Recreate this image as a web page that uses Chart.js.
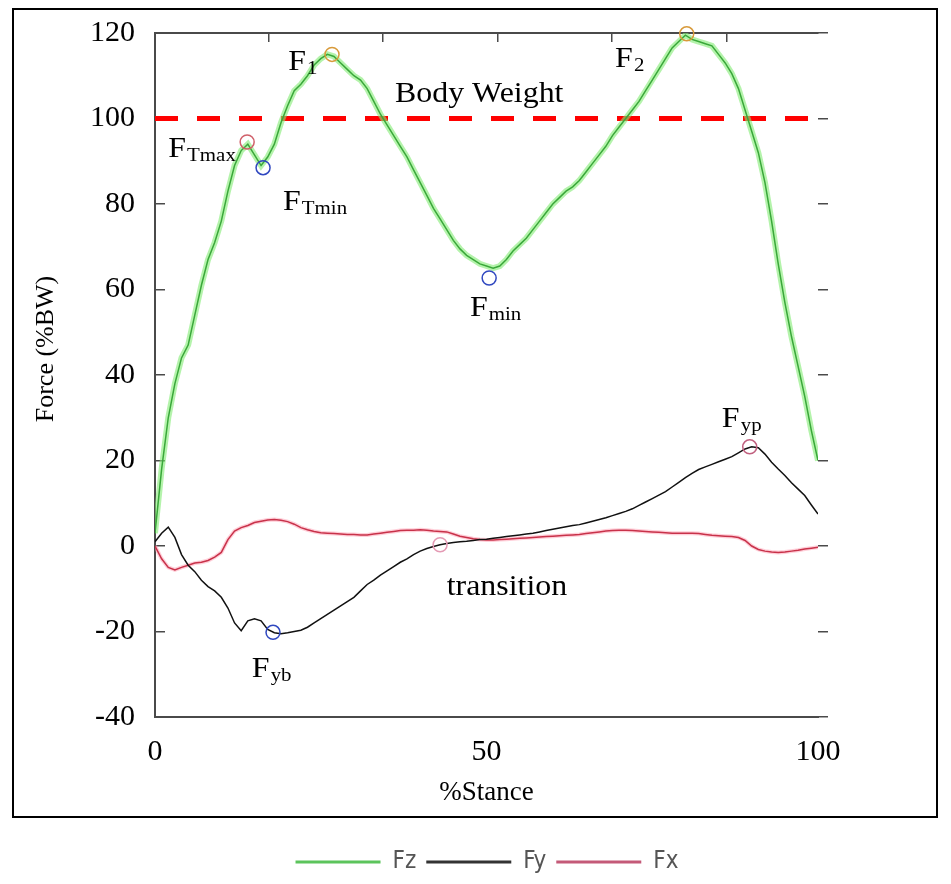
<!DOCTYPE html>
<html>
<head>
<meta charset="utf-8">
<title>Ground reaction force over stance</title>
<script src="https://cdn.jsdelivr.net/npm/chart.js@4.4.1/dist/chart.umd.min.js"></script>
<style>
    html, body { margin: 0; padding: 0; background: #fff; }
    #wrap { position: relative; width: 951px; height: 884px; }
    #frame {
        position: absolute; left: 12px; top: 8px; width: 926px; height: 810px;
        border: 2px solid #000; box-sizing: border-box; pointer-events: none;
    }
</style>
</head>
<body>
<div id="wrap">
    <canvas id="forceChart" width="951" height="884"></canvas>
    <div id="frame"></div>
</div>
<script>
// % of stance phase
const stance = [0, 1, 2, 3, 4, 5, 6, 7, 8, 9, 10, 11, 12, 13, 14, 15, 16, 17, 18, 19, 20,
    21, 22, 23, 24, 25, 26, 27, 28, 29, 30, 31, 32, 33, 34, 35, 36, 37, 38, 39, 40,
    41, 42, 43, 44, 45, 46, 47, 48, 49, 50, 51, 52, 53, 54, 55, 56, 57, 58, 59, 60,
    61, 62, 63, 64, 65, 66, 67, 68, 69, 70, 71, 72, 73, 74, 75, 76, 77, 78, 79, 80,
    81, 82, 83, 84, 85, 86, 87, 88, 89, 90, 91, 92, 93, 94, 95, 96, 97, 98, 99, 100];

// force in %BW
const fz = [3, 18, 30, 38, 44, 47, 54, 61, 67, 71,
    76, 83, 89, 92.5, 94, 91.5, 89, 91, 94, 99,
    103, 106.5, 108, 110, 112.5, 114, 115, 114.5, 113, 111.5,
    110, 109, 107, 104, 101, 98.5, 96, 93.5, 91, 88,
    85, 82, 79, 76.5, 74, 71.5, 69.5, 68, 67, 66,
    65.5, 65, 65.5, 67, 69, 70.5, 72, 74, 76, 78,
    80, 81.5, 83, 84, 85.5, 87.5, 89.5, 91.5, 93.5, 96,
    98, 100, 102, 104, 106.5, 109, 111.5, 114, 116.5, 118,
    119.5, 118.5, 118, 117.5, 117, 115, 113, 110.5, 107, 102,
    97, 92, 85, 76, 66, 57, 49, 42, 35, 27, 20];

const fy = [1, 3, 4.4, 2, -2, -4.5, -6, -8, -9.5, -10.5,
    -12, -14.5, -18, -19.8, -17.5, -17, -17.5, -19.5, -20.3, -20.5,
    -20.3, -20, -19.7, -19, -18, -17, -16, -15, -14, -13,
    -12, -10.5, -9, -8, -6.8, -5.8, -4.8, -3.8, -3, -2,
    -1.2, -0.6, -0.1, 0.3, 0.6, 0.8, 1, 1.1, 1.3, 1.5,
    1.6, 1.8, 2, 2.2, 2.4, 2.6, 2.8, 3, 3.3, 3.6,
    3.9, 4.2, 4.5, 4.8, 5, 5.4, 5.8, 6.2, 6.6, 7.1,
    7.6, 8.1, 8.7, 9.5, 10.3, 11.1, 11.9, 12.7, 13.8, 14.9,
    16, 17, 17.9, 18.5, 19.1, 19.7, 20.3, 20.9, 21.8, 22.7,
    23.2, 23, 21.5, 19.6, 18, 16.5, 14.8, 13.3, 11.8, 9.6, 7.5];

const fx = [0, -3, -5, -5.6, -5, -4.5, -4, -3.8, -3.4, -2.6,
    -1.5, 1.5, 3.5, 4.3, 4.8, 5.5, 5.8, 6.1, 6.2, 6,
    5.7, 5.1, 4.3, 3.8, 3.4, 3.1, 3, 2.9, 2.8, 2.7,
    2.7, 2.6, 2.6, 2.8, 3, 3.2, 3.4, 3.6, 3.7, 3.7,
    3.8, 3.7, 3.5, 3.4, 3.3, 2.8, 2.3, 2, 1.7, 1.5,
    1.4, 1.4, 1.5, 1.6, 1.7, 1.8, 1.9, 2, 2.1, 2.2,
    2.3, 2.4, 2.5, 2.6, 2.7, 2.9, 3.1, 3.3, 3.5, 3.6,
    3.7, 3.7, 3.6, 3.5, 3.4, 3.3, 3.2, 3.1, 3, 3,
    3, 3, 2.9, 2.7, 2.5, 2.4, 2.3, 2.2, 2, 1.3,
    0, -0.8, -1.2, -1.4, -1.5, -1.4, -1.2, -1, -0.7, -0.5, -0.3];

const bodyWeight = 100;

// marked events: F_Tmax, F_Tmin, F1, F_min, F2, F_yb, transition, F_yp
const eventNames = ['FTmax', 'FTmin', 'F1', 'Fmin', 'F2', 'Fyb', 'transition', 'Fyp'];
const eventStance = [13.9, 16.3, 26.7, 50.4, 80.2, 17.8, 43.0, 89.7];
const eventForce = [94.5, 88.5, 115, 62.7, 119.8, -20.2, 0.3, 23.2];
const eventColors = ['#d0606a', '#3048c0', '#d89a3a', '#3048c0', '#d89a3a', '#3048c0', '#e49ab4', '#c0607f'];

const yTicks = [-40, -20, 0, 20, 40, 60, 80, 100, 120];
const xTicks = [0, 50, 100];
const topTicks = [17.1, 34.4, 51.7, 68.9, 86.3];

// text labels placed in data units (left edge, baseline)
const annotations = [
    { text: 'F', sub: '1', x: 20.1, y: 111.3 },
    { text: 'F', sub: '2', x: 69.4, y: 112.0 },
    { text: 'F', sub: 'Tmax', x: 2.0, y: 91.0 },
    { text: 'F', sub: 'Tmin', x: 19.3, y: 78.6 },
    { text: 'Body Weight', x: 36.2, y: 103.9 },
    { text: 'F', sub: 'min', x: 47.5, y: 53.8 },
    { text: 'transition', x: 44.0, y: -11.5 },
    { text: 'F', sub: 'yb', x: 14.6, y: -30.6 },
    { text: 'F', sub: 'yp', x: 85.5, y: 27.8 }
];

const serif = '"Liberation Serif", "Times New Roman", serif';
const legendNames = ['Fz', 'Fy', 'Fx'];
const legendColors = { Fz: '#5cc45c', Fy: '#333', Fx: '#c45a78' };

function toPoints(values) {
    return stance.map((s, i) => ({ x: s, y: values[i] }));
}

function noEdgePadding(scale) {
    scale.paddingTop = 0;
    scale.paddingBottom = 0;
}

const annotationPlugin = {
    id: 'annotations',
    afterDatasetsDraw(chart) {
        const { ctx, scales } = chart;
        ctx.save();
        ctx.fillStyle = '#000';
        ctx.textBaseline = 'alphabetic';
        ctx.textAlign = 'left';
        annotations.forEach(a => {
            const px = scales.x.getPixelForValue(a.x);
            const py = scales.y.getPixelForValue(a.y);
            ctx.save();
            ctx.translate(px, py);
            ctx.scale(1.1, 1);
            ctx.font = '29px ' + serif;
            ctx.fillText(a.text, 0, 0);
            if (a.sub) {
                const w = ctx.measureText(a.text).width;
                ctx.font = '19px ' + serif;
                ctx.fillText(a.sub, w + 1, 4);
            }
            ctx.restore();
        });
        ctx.restore();
    }
};

const axisColor = '#4a4a4a';

new Chart(document.getElementById('forceChart'), {
    type: 'line',
    data: {
        datasets: [
            {
                label: 'Fz', data: toPoints(fz), borderColor: '#3aa83a', borderWidth: 1.5,
                pointRadius: 0, order: 2
            },
            {
                label: 'Fy', data: toPoints(fy), borderColor: '#111', borderWidth: 1.5,
                pointRadius: 0, order: 2
            },
            {
                label: 'Fx', data: toPoints(fx), borderColor: '#c8324a', borderWidth: 1.5,
                pointRadius: 0, order: 2
            },
            {
                label: 'glowFz', data: toPoints(fz), borderColor: 'rgba(130, 235, 115, 0.6)', borderWidth: 6,
                pointRadius: 0, order: 8
            },
            {
                label: 'glowFx', data: toPoints(fx), borderColor: 'rgba(255, 160, 180, 0.5)', borderWidth: 4,
                pointRadius: 0, order: 8
            },
            {
                label: 'bodyWeight',
                data: [{ x: stance[0], y: bodyWeight }, { x: stance[stance.length - 1], y: bodyWeight }],
                borderColor: '#ff0000', borderWidth: 5, borderDash: [23, 19],
                pointRadius: 0, order: 9
            },
            {
                label: 'events',
                data: eventStance.map((s, i) => ({ x: s, y: eventForce[i] })),
                showLine: false, pointRadius: 7, pointHoverRadius: 7, pointBorderWidth: 1.5,
                pointBackgroundColor: 'rgba(0,0,0,0)', pointBorderColor: eventColors,
                clip: false, order: 0
            }
        ]
    },
    options: {
        responsive: false,
        devicePixelRatio: 1,
        animation: false,
        layout: { padding: { left: 23, right: 0, top: 33, bottom: 0 } },
        plugins: {
            tooltip: { enabled: false },
            legend: {
                position: 'bottom',
                labels: {
                    filter: item => legendNames.includes(item.text),
                    generateLabels: chart => Chart.defaults.plugins.legend.labels.generateLabels(chart)
                        .map(item => Object.assign(item, {
                            lineWidth: 3,
                            strokeStyle: legendColors[item.text] || item.strokeStyle
                        })),
                    usePointStyle: true,
                    pointStyle: 'line',
                    pointStyleWidth: 85,
                    padding: 10,
                    color: '#555',
                    font: { family: '"DejaVu Sans Condensed", "Liberation Sans", sans-serif', size: 24 }
                }
            }
        },
        scales: {
            x: {
                type: 'linear', position: 'bottom', min: 0, max: 100,
                afterBuildTicks: s => { s.ticks = xTicks.map(v => ({ value: v })); },
                afterFit: s => { s.height = 123; },
                ticks: { color: '#000', font: { family: serif, size: 30 }, padding: 17, maxRotation: 0 },
                grid: { drawOnChartArea: false, drawTicks: false },
                border: { color: axisColor, width: 2 },
                title: {
                    display: true, text: '%Stance', color: '#000',
                    font: { family: serif, size: 27 }, padding: { top: 0, bottom: 31 }
                }
            },
            x2: {
                type: 'linear', position: 'top', min: 0, max: 100,
                afterBuildTicks: s => { s.ticks = topTicks.map(v => ({ value: v })); },
                afterFit: s => { s.height = 0; },
                ticks: { display: false },
                grid: { drawOnChartArea: false, tickLength: -9, color: axisColor, lineWidth: 1.5 },
                border: { color: axisColor, width: 2 }
            },
            y: {
                type: 'linear', position: 'left', min: -40, max: 120,
                afterBuildTicks: s => { s.ticks = yTicks.map(v => ({ value: v })); },
                afterFit: s => { s.width = 132; noEdgePadding(s); },
                ticks: { color: '#000', font: { family: serif, size: 30 }, padding: 30 },
                grid: { drawOnChartArea: false, tickLength: -10, color: axisColor, lineWidth: 1.5 },
                border: { color: axisColor, width: 2 },
                title: {
                    display: true, text: '        Force (%BW)', color: '#000',
                    font: { family: serif, size: 26 }, padding: { top: 8, bottom: 0 }
                }
            },
            y2: {
                type: 'linear', position: 'right', min: -40, max: 120,
                afterBuildTicks: s => { s.ticks = yTicks.map(v => ({ value: v })); },
                afterFit: s => { s.width = 133; noEdgePadding(s); },
                ticks: { display: false },
                grid: { drawOnChartArea: false, tickLength: 10, color: axisColor, lineWidth: 1.5 },
                border: { display: false }
            }
        }
    },
    plugins: [annotationPlugin]
});
</script>
</body>
</html>
